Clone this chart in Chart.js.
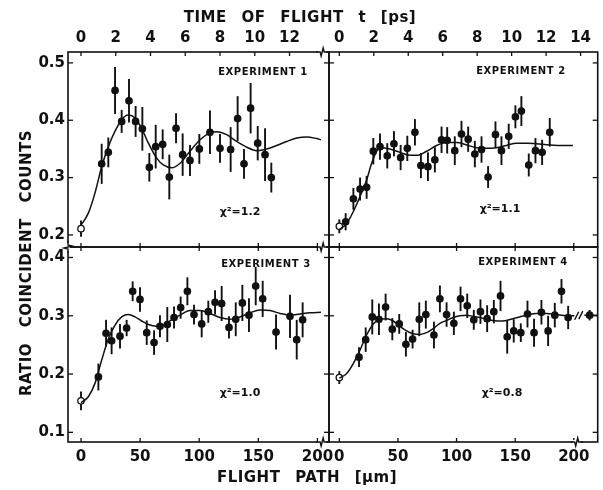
<!DOCTYPE html>
<html>
<head>
<meta charset="utf-8">
<script src="https://cdn.jsdelivr.net/npm/chart.js@4.4.1/dist/chart.umd.min.js"></script>
<style>
  body { margin: 0; background: #fff; }
  #wrap { position: relative; width: 603px; height: 490px; overflow: hidden; font-family: "DejaVu Sans", sans-serif; font-weight: bold; color: #111; }
  #wrap canvas { position: absolute; left: 0; top: 0; }
  .lbl { position: absolute; transform: translate(-50%, -50%); white-space: nowrap; }
</style>
</head>
<body>
<div id="wrap">
  <canvas id="c1" width="603" height="490"></canvas>
  <canvas id="c2" width="603" height="490"></canvas>
  <canvas id="c3" width="603" height="490"></canvas>
  <canvas id="c4" width="603" height="490"></canvas>

  <div class="lbl" style="left:300px;top:17px;font-size:15px;word-spacing:9px;letter-spacing:0.5px">TIME OF FLIGHT t [ps]</div>
  <div class="lbl" style="left:307px;top:477px;font-size:15px;word-spacing:9px;letter-spacing:0.5px">FLIGHT PATH [µm]</div>
  <div class="lbl" style="left:26px;top:263px;font-size:15px;word-spacing:10px;letter-spacing:0.5px;transform:translate(-50%,-50%) rotate(-90deg)">RATIO COINCIDENT COUNTS</div>

  <div class="lbl" style="left:263px;top:71px;font-size:10px;letter-spacing:0.6px">EXPERIMENT 1</div>
  <div class="lbl" style="left:521px;top:70px;font-size:10px;letter-spacing:0.6px">EXPERIMENT 2</div>
  <div class="lbl" style="left:266px;top:263px;font-size:10px;letter-spacing:0.6px">EXPERIMENT 3</div>
  <div class="lbl" style="left:523px;top:261px;font-size:10px;letter-spacing:0.6px">EXPERIMENT 4</div>

  <div class="lbl" style="left:240px;top:211px;font-size:11px">χ²=1.2</div>
  <div class="lbl" style="left:500px;top:208px;font-size:11px">χ²=1.1</div>
  <div class="lbl" style="left:240px;top:392px;font-size:11px">χ²=1.0</div>
  <div class="lbl" style="left:502px;top:392px;font-size:11px">χ²=0.8</div>
</div>
<script>
// flight path in µm, ratio of coincident counts, one-sigma error
const exp1X = [0, 17.5, 23.1, 28.8, 34.4, 40.6, 46.2, 51.9, 57.8, 63.2, 69.1, 74.7, 80.4, 86.0, 92.2, 100.1, 109.1, 117.6, 126.6, 132.5, 137.9, 143.5, 149.5, 155.7, 161.0];
const exp1Y = [0.211, 0.324, 0.344, 0.452, 0.398, 0.434, 0.398, 0.385, 0.318, 0.354, 0.358, 0.301, 0.386, 0.340, 0.330, 0.350, 0.379, 0.351, 0.349, 0.403, 0.324, 0.421, 0.360, 0.340, 0.300];
const exp1Err = [0.014, 0.035, 0.026, 0.041, 0.020, 0.038, 0.027, 0.038, 0.025, 0.038, 0.026, 0.039, 0.026, 0.037, 0.027, 0.026, 0.038, 0.025, 0.039, 0.039, 0.026, 0.044, 0.030, 0.046, 0.026];
const fit1X = [0, 6.2, 11.8, 17.5, 23.1, 28.8, 34.4, 40.0, 45.7, 51.3, 57.0, 64.0, 69.7, 76.7, 83.8, 92.2, 100.7, 109.1, 114.8, 123.2, 131.7, 140.2, 148.6, 157.1, 165.5, 174.0, 182.5, 190.9, 199.4, 203.0];
const fit1Y = [0.217, 0.238, 0.273, 0.319, 0.354, 0.381, 0.401, 0.409, 0.404, 0.386, 0.360, 0.334, 0.322, 0.317, 0.325, 0.346, 0.366, 0.378, 0.380, 0.375, 0.363, 0.353, 0.347, 0.350, 0.356, 0.363, 0.369, 0.371, 0.368, 0.366];

const exp2X = [0, 5.4, 12.0, 17.7, 23.3, 29.0, 34.7, 40.9, 46.6, 52.3, 58.0, 64.5, 69.6, 75.6, 81.5, 87.2, 92.0, 98.5, 104.2, 109.9, 115.6, 121.3, 126.9, 133.2, 138.3, 144.5, 150.2, 155.3, 161.6, 167.3, 173.0, 179.5];
const exp2Y = [0.215, 0.223, 0.263, 0.280, 0.283, 0.346, 0.354, 0.338, 0.359, 0.335, 0.351, 0.379, 0.321, 0.319, 0.331, 0.366, 0.365, 0.347, 0.376, 0.367, 0.341, 0.349, 0.301, 0.375, 0.347, 0.372, 0.406, 0.416, 0.322, 0.347, 0.344, 0.379];
const exp2Err = [0.012, 0.015, 0.019, 0.020, 0.020, 0.023, 0.023, 0.022, 0.022, 0.022, 0.022, 0.023, 0.022, 0.025, 0.022, 0.023, 0.023, 0.025, 0.023, 0.022, 0.023, 0.023, 0.019, 0.023, 0.025, 0.022, 0.020, 0.026, 0.020, 0.022, 0.022, 0.025];
const fit2X = [0, 6.3, 12.0, 17.6, 23.3, 27.6, 31.9, 34.6, 43.2, 51.8, 60.3, 67.4, 74.5, 83.0, 91.6, 100.0, 108.5, 117.0, 125.5, 134.0, 142.5, 151.0, 159.6, 168.0, 179.5, 190.8, 199.3];
const fit2Y = [0.209, 0.220, 0.241, 0.267, 0.296, 0.325, 0.346, 0.352, 0.350, 0.344, 0.339, 0.339, 0.346, 0.356, 0.361, 0.361, 0.357, 0.352, 0.351, 0.352, 0.356, 0.360, 0.360, 0.359, 0.357, 0.356, 0.356];

const exp3X = [0, 14.7, 21.2, 25.9, 33.0, 38.6, 43.7, 49.9, 55.6, 61.8, 66.8, 73.0, 78.7, 84.3, 90.0, 95.6, 102.1, 107.7, 113.4, 119.0, 125.2, 130.9, 136.5, 142.1, 147.8, 153.7, 165.0, 176.8, 182.5, 187.5];
const exp3Y = [0.154, 0.195, 0.270, 0.257, 0.265, 0.279, 0.342, 0.328, 0.271, 0.254, 0.282, 0.285, 0.297, 0.314, 0.342, 0.302, 0.286, 0.307, 0.323, 0.321, 0.280, 0.294, 0.322, 0.301, 0.351, 0.329, 0.272, 0.299, 0.259, 0.293];
const exp3Err = [0.016, 0.023, 0.023, 0.023, 0.021, 0.014, 0.017, 0.021, 0.021, 0.021, 0.019, 0.030, 0.019, 0.019, 0.024, 0.017, 0.023, 0.019, 0.021, 0.030, 0.019, 0.029, 0.031, 0.029, 0.033, 0.031, 0.030, 0.037, 0.034, 0.030];
const fit3X = [0, 6.2, 11.8, 17.5, 23.1, 28.8, 34.4, 40.0, 45.7, 51.3, 57.0, 64.0, 69.7, 76.7, 83.8, 92.2, 100.7, 109.1, 117.6, 126.1, 134.5, 143.0, 151.4, 159.9, 168.4, 176.8, 185.3, 193.7, 203.0];
const fit3Y = [0.151, 0.161, 0.184, 0.224, 0.260, 0.284, 0.298, 0.302, 0.298, 0.291, 0.285, 0.282, 0.284, 0.293, 0.301, 0.309, 0.309, 0.304, 0.297, 0.294, 0.298, 0.305, 0.310, 0.309, 0.304, 0.301, 0.303, 0.305, 0.306];

const exp4X = [0, 16.8, 22.5, 28.1, 33.8, 39.5, 45.2, 51.1, 56.8, 62.5, 68.2, 73.8, 80.7, 85.8, 91.5, 97.7, 103.4, 109.1, 114.7, 120.4, 126.1, 131.8, 137.5, 143.2, 148.8, 154.8, 160.5, 166.1, 172.4, 178.1, 183.8, 189.5, 195.2, 213.5];
const exp4Y = [0.194, 0.229, 0.259, 0.298, 0.294, 0.315, 0.277, 0.286, 0.251, 0.260, 0.294, 0.302, 0.267, 0.329, 0.302, 0.287, 0.329, 0.317, 0.293, 0.307, 0.295, 0.307, 0.334, 0.264, 0.274, 0.271, 0.303, 0.271, 0.306, 0.274, 0.301, 0.342, 0.297, 0.301];
const exp4Err = [0.011, 0.017, 0.021, 0.030, 0.027, 0.023, 0.019, 0.017, 0.021, 0.016, 0.029, 0.024, 0.023, 0.023, 0.021, 0.020, 0.021, 0.021, 0.017, 0.021, 0.023, 0.020, 0.026, 0.029, 0.020, 0.016, 0.023, 0.024, 0.021, 0.026, 0.021, 0.021, 0.020, 0.009];
const fit4X = [0, 6.3, 11.9, 17.6, 23.3, 29.0, 34.7, 40.3, 46.0, 51.7, 57.4, 63.0, 68.7, 74.4, 80.1, 85.8, 91.5, 97.1, 102.8, 108.5, 114.2, 119.8, 125.5, 131.2, 136.9, 142.5, 148.2, 153.9, 159.6, 168.1, 176.7, 185.2, 193.7, 200.5, 205.0, 209.0, 220.0];
const fit4Y = [0.193, 0.201, 0.218, 0.241, 0.267, 0.286, 0.294, 0.295, 0.291, 0.282, 0.274, 0.269, 0.268, 0.271, 0.278, 0.287, 0.292, 0.297, 0.300, 0.301, 0.299, 0.297, 0.294, 0.292, 0.291, 0.292, 0.295, 0.298, 0.301, 0.304, 0.304, 0.302, 0.300, 0.300, null, 0.301, 0.301];

// tick labels
const pathTicks = [0, 50, 100, 150, 200];
const timeTicksLeft = [0, 2, 4, 6, 8, 10, 12];
const timeTicksRight = [0, 2, 4, 6, 8, 10, 12, 14];
const ratioTicksTop = [0.2, 0.3, 0.4, 0.5];
const ratioTicksBottom = [0.1, 0.2, 0.3, 0.4];

const INK = '#111';
const UM_PER_PS = 14.7;

Chart.defaults.font.family = '"DejaVu Sans", sans-serif';
Chart.defaults.font.weight = 'bold';
Chart.defaults.font.size = 15;
Chart.defaults.color = INK;

const panelDeco = {
    id: 'panelDeco',
    beforeDatasetsDraw(chart) {
        const { ctx, scales } = chart;
        ctx.save();
        ctx.strokeStyle = INK;
        ctx.lineWidth = 1.9;
        chart.data.datasets.forEach(ds => {
            if (!ds.errors) return;
            ds.data.forEach((pt, i) => {
                const x = scales.x.getPixelForValue(pt.x);
                ctx.beginPath();
                ctx.moveTo(x, scales.y.getPixelForValue(pt.y - ds.errors[i]));
                ctx.lineTo(x, scales.y.getPixelForValue(pt.y + ds.errors[i]));
                ctx.stroke();
            });
        });
        ctx.restore();
    },
    afterDraw(chart, args, o) {
        const { ctx, chartArea: a, scales } = chart;
        ctx.save();
        ctx.strokeStyle = INK;
        ctx.lineWidth = 1.6;
        ctx.strokeRect(a.left, a.top, a.right - a.left, a.bottom - a.top);

        ctx.lineWidth = 1.3;
        const line = (x1, y1, x2, y2) => { ctx.beginPath(); ctx.moveTo(x1, y1); ctx.lineTo(x2, y2); ctx.stroke(); };
        pathTicks.forEach(v => {
            const x = scales.x.getPixelForValue(v);
            line(x, a.bottom, x, a.bottom - 4);
            if (!o.timeTicks) line(x, a.top, x, a.top + 4);
        });
        (o.timeTicks || []).forEach(v => {
            const x = scales.t.getPixelForValue(v);
            line(x, a.top, x, a.top + 4);
        });
        o.ratioTicks.forEach(v => {
            const y = scales.y.getPixelForValue(v);
            line(a.left, y, a.left + 5, y);
            line(a.right, y, a.right - 5, y);
        });

        // axis breaks
        (o.breaks || []).forEach(b => {
            ctx.lineWidth = 1.4;
            if (b.edge === 'left') {
                const x = a.left, y = scales.y.getPixelForValue(b.at);
                ctx.fillStyle = '#fff';
                ctx.fillRect(x - 2, y - 4, 4, 8);
                ctx.beginPath();
                ctx.moveTo(x, y - 6); ctx.lineTo(x, y - 2); ctx.lineTo(x + 4, y - 1);
                ctx.lineTo(x - 4, y + 1); ctx.lineTo(x, y + 2); ctx.lineTo(x, y + 6);
                ctx.stroke();
            } else {
                const x = scales.x.getPixelForValue(b.at);
                const y = b.edge === 'top' ? a.top : a.bottom;
                ctx.fillStyle = '#fff';
                ctx.fillRect(x - 4, y - 2, 8, 4);
                ctx.beginPath();
                ctx.moveTo(x - 6, y); ctx.lineTo(x - 2, y); ctx.lineTo(x - 1, y + 4);
                ctx.lineTo(x + 1, y - 4); ctx.lineTo(x + 2, y); ctx.lineTo(x + 6, y);
                ctx.stroke();
            }
        });
        (o.slashes || []).forEach(s => {
            const x = scales.x.getPixelForValue(s[0]);
            const y = scales.y.getPixelForValue(s[1]);
            ctx.lineWidth = 1.4;
            line(x - 2, y + 4, x + 2, y - 4);
        });
        ctx.restore();
    },
};

function makePanel(id, p) {
    const [L, T, R, B] = p.box;
    const showT = !!p.timeTicks;
    const yW = p.showY ? 50 : 0;
    const tH = showT ? 40 : 0;
    const xH = p.showX ? 40 : 0;
    const fixW = w => s => { s.width = w; s.paddingTop = 0; s.paddingBottom = 0; };
    const fixH = h => s => { s.height = h; s.paddingLeft = 0; s.paddingRight = 0; };
    const setTicks = vals => s => { s.ticks = vals.map(v => ({ value: v })); };

    return new Chart(document.getElementById(id), {
        type: 'scatter',
        data: {
            datasets: [
                {
                    data: p.fitX.map((x, i) => ({ x, y: p.fitY[i] })),
                    showLine: true,
                    borderColor: INK,
                    borderWidth: 1.5,
                    pointRadius: 0,
                    cubicInterpolationMode: 'monotone',
                    spanGaps: false,
                },
                {
                    data: p.x.map((x, i) => ({ x, y: p.y[i] })),
                    errors: p.err,
                    pointRadius: 3.2,
                    backgroundColor: p.x.map((_, i) => (i === 0 ? '#fff' : INK)),
                    borderColor: INK,
                    borderWidth: 1.3,
                },
            ],
        },
        options: {
            responsive: false,
            animation: false,
            events: [],
            layout: {
                padding: { left: L - yW, top: T - tH, right: 603 - R, bottom: 490 - B - xH },
            },
            plugins: {
                legend: { display: false },
                tooltip: { enabled: false },
                panelDeco: { timeTicks: p.timeTicks, ratioTicks: p.ratioTicks, breaks: p.breaks, slashes: p.slashes },
            },
            scales: {
                x: {
                    type: 'linear', position: 'bottom', min: p.xr[0], max: p.xr[1],
                    display: p.showX,
                    grid: { display: false, drawTicks: false },
                    border: { display: false },
                    ticks: { padding: 6, maxRotation: 0 },
                    afterBuildTicks: setTicks(pathTicks),
                    afterFit: fixH(xH),
                },
                t: {
                    type: 'linear', axis: 'x', position: 'top',
                    min: p.xr[0] / UM_PER_PS, max: p.xr[1] / UM_PER_PS,
                    display: showT,
                    grid: { display: false, drawTicks: false },
                    border: { display: false },
                    ticks: { padding: 5, maxRotation: 0 },
                    afterBuildTicks: setTicks(p.timeTicks || []),
                    afterFit: fixH(tH),
                },
                y: {
                    type: 'linear', position: 'left', min: p.yr[0], max: p.yr[1],
                    display: p.showY,
                    grid: { display: false, drawTicks: false },
                    border: { display: false },
                    ticks: { padding: 3, callback: v => v.toFixed(1) },
                    afterBuildTicks: setTicks(p.ratioTicks),
                    afterFit: fixW(yW),
                },
            },
        },
        plugins: [panelDeco],
    });
}

makePanel('c1', {
    box: [68, 52, 329, 247], xr: [-11, 209.8], yr: [0.179, 0.519],
    x: exp1X, y: exp1Y, err: exp1Err, fitX: fit1X, fitY: fit1Y,
    showY: true, showX: false, timeTicks: timeTicksLeft, ratioTicks: ratioTicksTop,
    breaks: [{ edge: 'top', at: 204 }],
});
makePanel('c2', {
    box: [329, 52, 598, 247], xr: [-8.8, 220.4], yr: [0.179, 0.519],
    x: exp2X, y: exp2Y, err: exp2Err, fitX: fit2X, fitY: fit2Y,
    showY: false, showX: false, timeTicks: timeTicksRight, ratioTicks: ratioTicksTop,
});
makePanel('c3', {
    box: [68, 247, 329, 442], xr: [-11, 209.8], yr: [0.0834, 0.418],
    x: exp3X, y: exp3Y, err: exp3Err, fitX: fit3X, fitY: fit3Y,
    showY: true, showX: true, ratioTicks: ratioTicksBottom,
    breaks: [{ edge: 'top', at: 204 }, { edge: 'bottom', at: 204 }, { edge: 'left', at: 0.418 }],
});
makePanel('c4', {
    box: [329, 247, 598, 442], xr: [-8.8, 220.4], yr: [0.0834, 0.418],
    x: exp4X, y: exp4Y, err: exp4Err, fitX: fit4X, fitY: fit4Y,
    showY: false, showX: true, ratioTicks: ratioTicksBottom,
    breaks: [{ edge: 'bottom', at: 202.5 }],
    slashes: [[202.5, 0.300], [206, 0.301]],
});
</script>
</body>
</html>
